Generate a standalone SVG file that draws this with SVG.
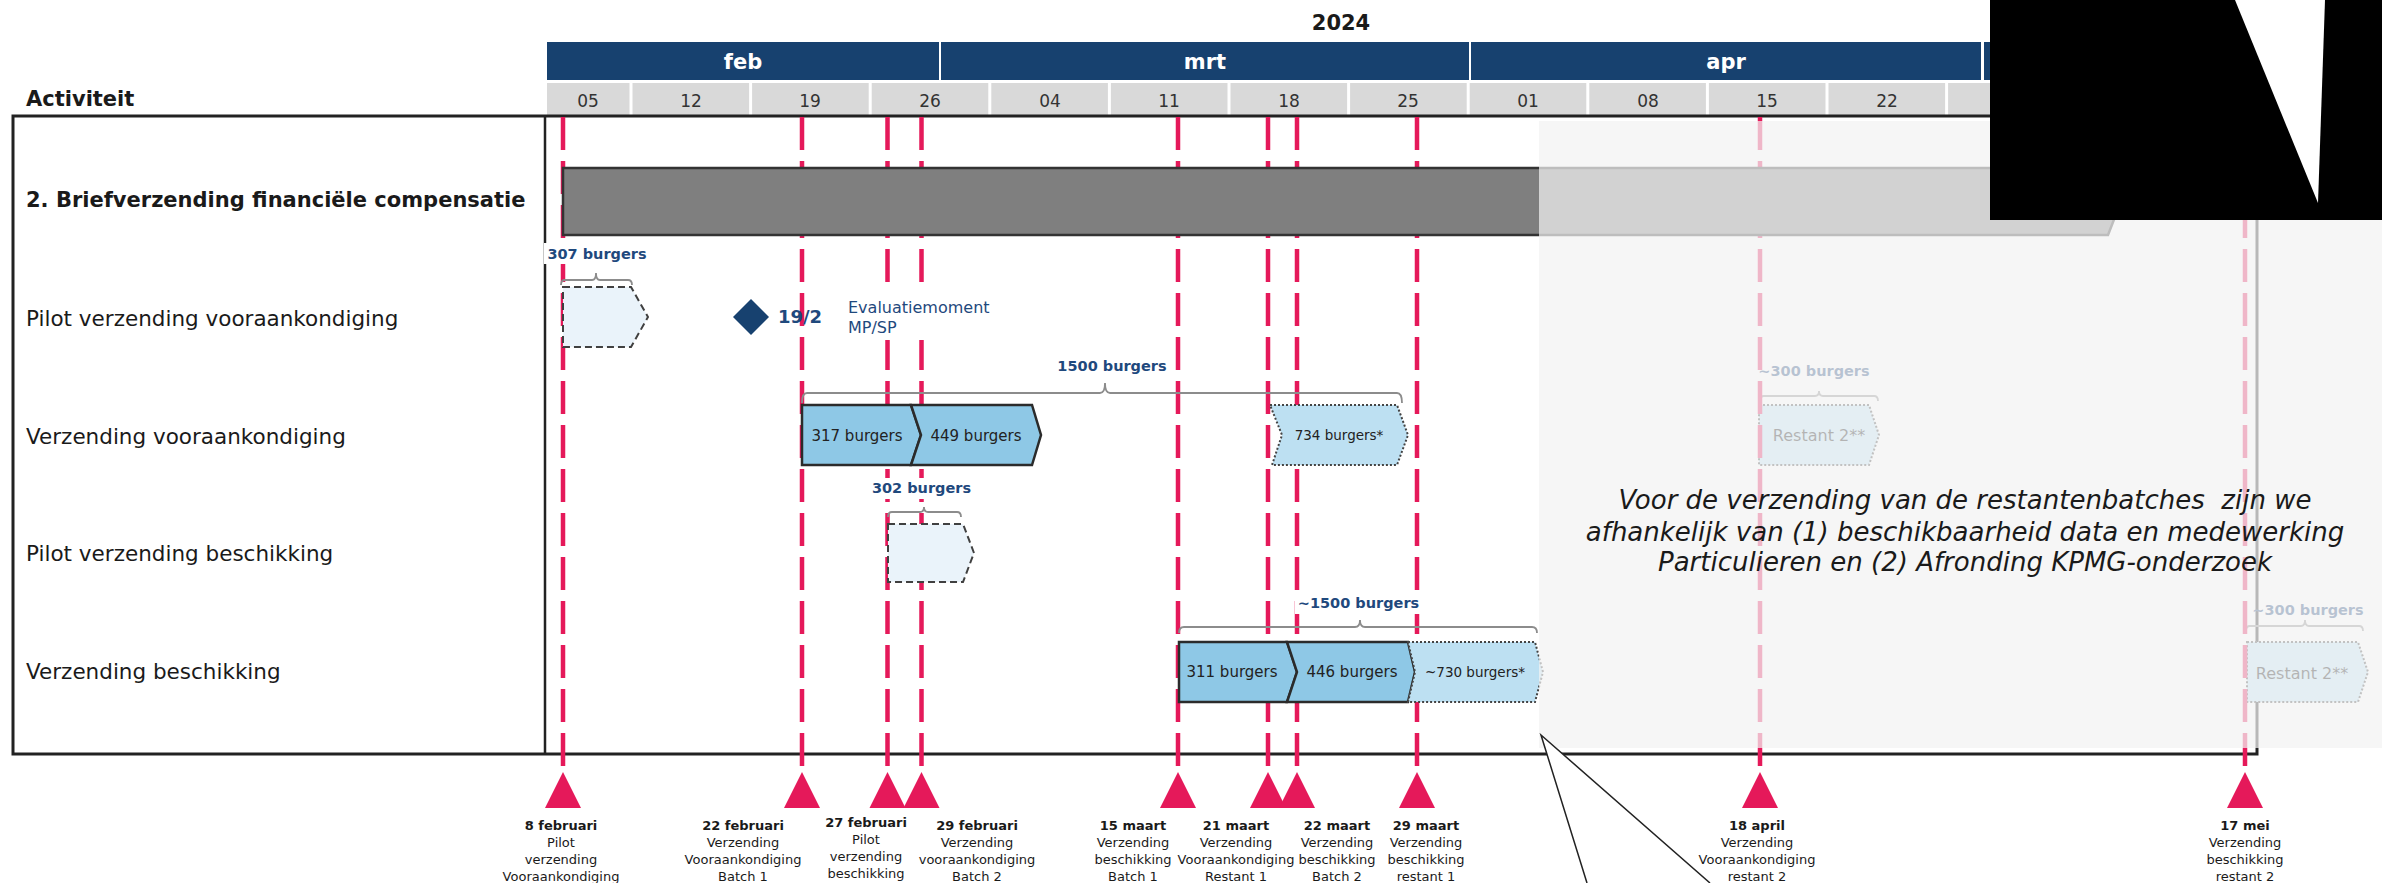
<svg xmlns="http://www.w3.org/2000/svg" width="2382" height="883" viewBox="0 0 2382 883">
<style>
text{font-family:"DejaVu Sans","Liberation Sans",sans-serif;}
.hdr{font-weight:bold;font-size:21px;fill:#1a1a1a}
.mon{font-weight:bold;font-size:21px;fill:#fff;text-anchor:middle}
.wk{font-size:17px;fill:#333;text-anchor:middle}
.row{font-size:21.5px;fill:#1a1a1a}
.cnt{font-weight:bold;font-size:14.5px;fill:#1F497D;text-anchor:middle}
.bx{font-size:15px;fill:#222;text-anchor:middle}
.bxs{font-size:13.5px;fill:#222;text-anchor:middle}
.rst{font-size:16px;fill:#111;text-anchor:middle}
.ms{font-size:13px;fill:#1a1a1a;text-anchor:middle}
.msb{font-weight:bold}
.mbar{fill:#17416F}
.wcell{fill:#D9D9D9}
.vl{stroke:#E5195A;stroke-width:4.5;stroke-dasharray:33 11;fill:none}
.tri{fill:#E5195A}
.brk{fill:none;stroke:#8C8C8C;stroke-width:1.8}
.solid{fill:#8EC8E6;stroke:#2b2b2b;stroke-width:2.5}
.plan{fill:#BDE0F2;stroke:#444;stroke-width:2;stroke-dasharray:2 2}
.pilot{fill:#EAF3FA;stroke:#404040;stroke-width:2;stroke-dasharray:7 4}
.bg{fill:#fff}
.note{font-size:26px;font-style:italic;fill:#1a1a1a;text-anchor:middle;white-space:pre}
</style>

<g id="header">
  <text x="1341" y="30" class="hdr" text-anchor="middle">2024</text>
  <rect class="mbar" x="547" y="42" width="392" height="38"/>
  <rect class="mbar" x="941" y="42" width="528" height="38"/>
  <rect class="mbar" x="1471" y="42" width="510" height="38"/>
  <rect class="mbar" x="1984" y="42" width="398" height="38"/>
  <text class="mon" x="743" y="69">feb</text>
  <text class="mon" x="1205" y="69">mrt</text>
  <text class="mon" x="1726" y="69">apr</text>
  <rect class="wcell" x="547" y="83" width="82.5" height="32"/>
  <rect class="wcell" x="632.5" y="83" width="116.6" height="32"/>
  <rect class="wcell" x="752.1" y="83" width="116.6" height="32"/>
  <rect class="wcell" x="871.7" y="83" width="116.6" height="32"/>
  <rect class="wcell" x="991.3" y="83" width="116.6" height="32"/>
  <rect class="wcell" x="1110.9" y="83" width="116.6" height="32"/>
  <rect class="wcell" x="1230.5" y="83" width="116.6" height="32"/>
  <rect class="wcell" x="1350.1" y="83" width="116.6" height="32"/>
  <rect class="wcell" x="1469.7" y="83" width="116.6" height="32"/>
  <rect class="wcell" x="1589.3" y="83" width="116.6" height="32"/>
  <rect class="wcell" x="1708.9" y="83" width="116.6" height="32"/>
  <rect class="wcell" x="1828.5" y="83" width="116.6" height="32"/>
  <rect class="wcell" x="1948.1" y="83" width="116.6" height="32"/>
  <text class="wk" x="588" y="107">05</text>
  <text class="wk" x="691" y="107">12</text>
  <text class="wk" x="810" y="107">19</text>
  <text class="wk" x="930" y="107">26</text>
  <text class="wk" x="1050" y="107">04</text>
  <text class="wk" x="1169" y="107">11</text>
  <text class="wk" x="1289" y="107">18</text>
  <text class="wk" x="1408" y="107">25</text>
  <text class="wk" x="1528" y="107">01</text>
  <text class="wk" x="1648" y="107">08</text>
  <text class="wk" x="1767" y="107">15</text>
  <text class="wk" x="1887" y="107">22</text>
  <text class="hdr" x="26" y="106">Activiteit</text>
</g>

<g id="panel">
  <rect x="13" y="116" width="2244" height="638" fill="none" stroke="#222" stroke-width="3"/>
  <line x1="545" y1="116" x2="545" y2="754" stroke="#222" stroke-width="2.5"/>
  <text class="hdr" x="26" y="207">2. Briefverzending financiële compensatie</text>
  <text class="row" x="26" y="326">Pilot verzending vooraankondiging</text>
  <text class="row" x="26" y="444">Verzending vooraankondiging</text>
  <text class="row" x="26" y="561">Pilot verzending beschikking</text>
  <text class="row" x="26" y="679">Verzending beschikking</text>
</g>

<g id="restant-vooraankondiging">
  <text class="cnt" x="1814" y="376">~300 burgers</text>
  <path class="brk" d="M1760,401 Q1760,396 1764,396 L1815,396 Q1819,396 1819,391 Q1819,396 1823,396 L1874,396 Q1878,396 1878,401"/>
  <polygon class="plan" points="1759,405 1869,405 1879,435 1869,465 1759,465"/>
  <text class="rst" x="1819" y="441">Restant 2**</text>
</g>
<g id="restant-beschikking">
  <text class="cnt" x="2308" y="615">~300 burgers</text>
  <path class="brk" d="M2246,631 Q2246,626 2250,626 L2301,626 Q2305,626 2305,620 Q2305,626 2309,626 L2359,626 Q2363,626 2363,631"/>
  <polygon class="plan" points="2247,642 2358,642 2368,672 2358,702 2247,702"/>
  <text class="rst" x="2302" y="679">Restant 2**</text>
</g>

<g id="connectors">
  <line class="vl" x1="563" y1="117" x2="563" y2="766"/>
  <line class="vl" x1="802" y1="117" x2="802" y2="766"/>
  <line class="vl" x1="887.5" y1="117" x2="887.5" y2="766"/>
  <line class="vl" x1="921.5" y1="117" x2="921.5" y2="766"/>
  <line class="vl" x1="1178" y1="117" x2="1178" y2="766"/>
  <line class="vl" x1="1268" y1="117" x2="1268" y2="766"/>
  <line class="vl" x1="1297" y1="117" x2="1297" y2="766"/>
  <line class="vl" x1="1417" y1="117" x2="1417" y2="766"/>
  <line class="vl" x1="1760" y1="117" x2="1760" y2="766"/>
  <line class="vl" x1="2245" y1="117" x2="2245" y2="766"/>
</g>

<g id="main-bar">
  <polygon points="563,168 2108,168 2121,201.5 2108,235 563,235" fill="#7F7F7F" stroke="#333" stroke-width="2.5"/>
</g>

<g id="pilot-vooraankondiging">
  <rect class="bg" x="544" y="243" width="106" height="21"/>
  <text class="cnt" x="597" y="259">307 burgers</text>
  <path class="brk" d="M561,285 Q561,280 565,280 L592,280 Q596,280 596,273 Q596,280 600,280 L628,280 Q632,280 632,285"/>
  <polygon class="pilot" points="563,287 631,287 648,317 631,347 563,347"/>
</g>

<g id="evaluatiemoment">
  <polygon points="751,299 769,317 751,335 733,317" fill="#17416F"/>
  <text x="778" y="323" font-weight="bold" font-size="18" fill="#1F497D">19/2</text>
  <rect class="bg" x="845" y="293" width="150" height="47"/>
  <text x="848" y="313" font-size="16" fill="#1F497D">Evaluatiemoment</text>
  <text x="848" y="333" font-size="16" fill="#1F497D">MP/SP</text>
</g>

<g id="verzending-vooraankondiging">
  <text class="cnt" x="1112" y="371">1500 burgers</text>
  <path class="brk" d="M802,403 Q802,393 807,393 L1100,393 Q1105,393 1105,383 Q1105,393 1110,393 L1397,393 Q1402,393 1402,403"/>
  <polygon class="solid" points="802,405 911,405 921,435 911,465 802,465"/>
  <text class="bx" x="857" y="441">317 burgers</text>
  <polygon class="solid" points="911,405 1032,405 1041,435 1032,465 911,465 921,435"/>
  <text class="bx" x="976" y="441">449 burgers</text>
  <polygon class="plan" points="1270,405 1397,405 1408,435 1397,465 1272,465 1282,435"/>
  <text class="bxs" x="1339" y="440">734 burgers*</text>
</g>

<g id="pilot-beschikking">
  <rect class="bg" x="869" y="478" width="105" height="21"/>
  <text class="cnt" x="921.5" y="493">302 burgers</text>
  <path class="brk" d="M888,517 Q888,512 892,512 L920,512 Q924,512 924,507 Q924,512 928,512 L957,512 Q961,512 961,517"/>
  <polygon class="pilot" points="888,524 963,524 974,553 963,582 888,582"/>
</g>

<g id="verzending-beschikking">
  <rect class="bg" x="1295" y="593" width="127" height="21"/>
  <text class="cnt" x="1358.5" y="608">~1500 burgers</text>
  <path class="brk" d="M1179,633 Q1179,627 1184,627 L1355,627 Q1360,627 1360,620 Q1360,627 1365,627 L1532,627 Q1537,627 1537,633"/>
  <polygon class="solid" points="1179,642 1287,642 1297,672 1287,702 1179,702"/>
  <text class="bx" x="1232" y="677">311 burgers</text>
  <polygon class="solid" points="1287,642 1408,642 1415,672 1408,702 1287,702 1297,672"/>
  <text class="bx" x="1352" y="677">446 burgers</text>
  <polygon class="plan" points="1408,642 1535,642 1543,672 1535,702 1408,702 1415,672"/>
  <text class="bxs" x="1475" y="677">~730 burgers*</text>
</g>

<rect id="future-overlay" x="1539" y="121" width="843" height="627" fill="#F2F2F2" fill-opacity="0.72"/>

<g id="note">
  <text class="note" x="1965" y="509">Voor de verzending van de restantenbatches  zijn we</text>
  <text class="note" x="1965" y="541">afhankelijk van (1) beschikbaarheid data en medewerking</text>
  <text class="note" x="1965" y="571">Particulieren en (2) Afronding KPMG-onderzoek</text>
</g>

<g id="callout">
  <polygon points="1541,735 1587,883 1710,883" fill="#fff"/>
  <path d="M1587,883 L1541,735 L1710,883" fill="none" stroke="#222" stroke-width="1.5"/>
</g>

<g id="milestones">
  <g id="ms-8feb">
    <polygon class="tri" points="563,772 545,808 581,808"/>
    <text class="ms msb" x="561" y="830">8 februari</text>
    <text class="ms" x="561" y="847">Pilot</text>
    <text class="ms" x="561" y="864">verzending</text>
    <text class="ms" x="561" y="881">Vooraankondiging</text>
  </g>
  <g id="ms-22feb">
    <polygon class="tri" points="802,772 784,808 820,808"/>
    <text class="ms msb" x="743" y="830">22 februari</text>
    <text class="ms" x="743" y="847">Verzending</text>
    <text class="ms" x="743" y="864">Vooraankondiging</text>
    <text class="ms" x="743" y="881">Batch 1</text>
  </g>
  <g id="ms-27feb">
    <polygon class="tri" points="887.5,772 869.5,808 905.5,808"/>
    <text class="ms msb" x="866" y="827">27 februari</text>
    <text class="ms" x="866" y="844">Pilot</text>
    <text class="ms" x="866" y="861">verzending</text>
    <text class="ms" x="866" y="878">beschikking</text>
  </g>
  <g id="ms-29feb">
    <polygon class="tri" points="921.5,772 903.5,808 939.5,808"/>
    <text class="ms msb" x="977" y="830">29 februari</text>
    <text class="ms" x="977" y="847">Verzending</text>
    <text class="ms" x="977" y="864">vooraankondiging</text>
    <text class="ms" x="977" y="881">Batch 2</text>
  </g>
  <g id="ms-15mrt">
    <polygon class="tri" points="1178,772 1160,808 1196,808"/>
    <text class="ms msb" x="1133" y="830">15 maart</text>
    <text class="ms" x="1133" y="847">Verzending</text>
    <text class="ms" x="1133" y="864">beschikking</text>
    <text class="ms" x="1133" y="881">Batch 1</text>
  </g>
  <g id="ms-21mrt">
    <polygon class="tri" points="1268,772 1250,808 1286,808"/>
    <text class="ms msb" x="1236" y="830">21 maart</text>
    <text class="ms" x="1236" y="847">Verzending</text>
    <text class="ms" x="1236" y="864">Vooraankondiging</text>
    <text class="ms" x="1236" y="881">Restant 1</text>
  </g>
  <g id="ms-22mrt">
    <polygon class="tri" points="1297,772 1279,808 1315,808"/>
    <text class="ms msb" x="1337" y="830">22 maart</text>
    <text class="ms" x="1337" y="847">Verzending</text>
    <text class="ms" x="1337" y="864">beschikking</text>
    <text class="ms" x="1337" y="881">Batch 2</text>
  </g>
  <g id="ms-29mrt">
    <polygon class="tri" points="1417,772 1399,808 1435,808"/>
    <text class="ms msb" x="1426" y="830">29 maart</text>
    <text class="ms" x="1426" y="847">Verzending</text>
    <text class="ms" x="1426" y="864">beschikking</text>
    <text class="ms" x="1426" y="881">restant 1</text>
  </g>
  <g id="ms-18apr">
    <polygon class="tri" points="1760,772 1742,808 1778,808"/>
    <text class="ms msb" x="1757" y="830">18 april</text>
    <text class="ms" x="1757" y="847">Verzending</text>
    <text class="ms" x="1757" y="864">Vooraankondiging</text>
    <text class="ms" x="1757" y="881">restant 2</text>
  </g>
  <g id="ms-17mei">
    <polygon class="tri" points="2245,772 2227,808 2263,808"/>
    <text class="ms msb" x="2245" y="830">17 mei</text>
    <text class="ms" x="2245" y="847">Verzending</text>
    <text class="ms" x="2245" y="864">beschikking</text>
    <text class="ms" x="2245" y="881">restant 2</text>
  </g>
</g>

<g id="redaction">
  <rect x="1990" y="0" width="392" height="220" fill="#000"/>
  <polygon points="2235,0 2325,0 2318,203" fill="#fff"/>
</g>
</svg>
